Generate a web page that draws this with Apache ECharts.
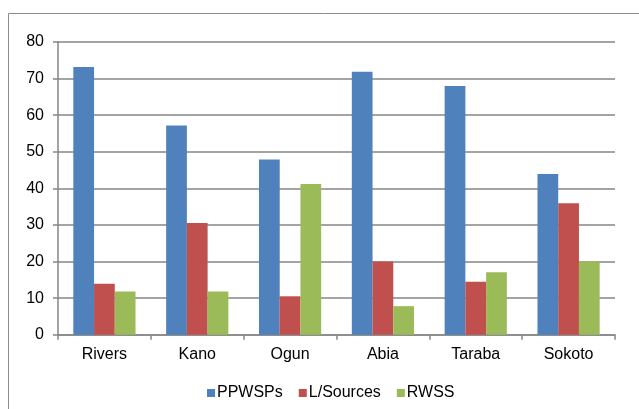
<!DOCTYPE html>
<html><head><meta charset="utf-8">
<script src="https://cdn.jsdelivr.net/npm/echarts@6/dist/echarts.min.js"></script>
<style>html,body{margin:0;padding:0;background:#fff}#c{width:639px;height:409px}</style>
</head><body><div id="c"></div>
<script>
const categories = ['Rivers','Kano','Ogun','Abia','Taraba','Sokoto'];
const ppwsps = [73.2, 57.2, 47.9, 71.9, 68.0, 43.9];
const lSources = [13.9, 30.5, 10.5, 20.0, 14.5, 35.9];
const rwss = [11.8, 11.8, 41.2, 7.8, 17.1, 20.0];
const seriesNames = ['PPWSPs','L/Sources','RWSS'];
const colors = ['#4F81BD','#C0504D','#9BBB59'];

const chart = echarts.init(document.getElementById('c'), null, {renderer:'canvas'});
const font = 'Liberation Sans, Arial, sans-serif';
chart.setOption({
  animation:false,
  color: colors,
  graphic:[{type:'rect', shape:{x:8.5,y:13.5,width:700,height:500}, style:{fill:'none',stroke:'#8c8c8c',lineWidth:1}, silent:true}],
  grid:{left:58, right:24, top:42, bottom:74.3},
  legend:{top:380, left:202, itemWidth:8, itemHeight:8, itemGap:16, icon:'rect',
    textStyle:{fontFamily:font, fontSize:16, color:'#000', padding:[0,0,0,-3]},
    data:seriesNames},
  xAxis:{type:'category', data:categories,
    axisLine:{lineStyle:{color:'#868686', width:1.5}},
    axisTick:{show:true, length:5, lineStyle:{color:'#868686', width:1.5}},
    axisLabel:{fontFamily:font, fontSize:16, color:'#000', margin:12}},
  yAxis:{type:'value', min:0, max:80, interval:10,
    axisLine:{show:true, lineStyle:{color:'#868686', width:1.5}},
    axisTick:{show:true, length:5, lineStyle:{color:'#868686', width:1.5}},
    splitLine:{lineStyle:{color:'#868686', width:1.5}},
    axisLabel:{fontFamily:font, fontSize:16, color:'#000', margin:14}},
  series:[
    {name:seriesNames[0], type:'bar', data:ppwsps, barGap:'0%', barCategoryGap:'33%'},
    {name:seriesNames[1], type:'bar', data:lSources, barGap:'0%', barCategoryGap:'33%'},
    {name:seriesNames[2], type:'bar', data:rwss, barGap:'0%', barCategoryGap:'33%'}
  ]
});
</script></body></html>
